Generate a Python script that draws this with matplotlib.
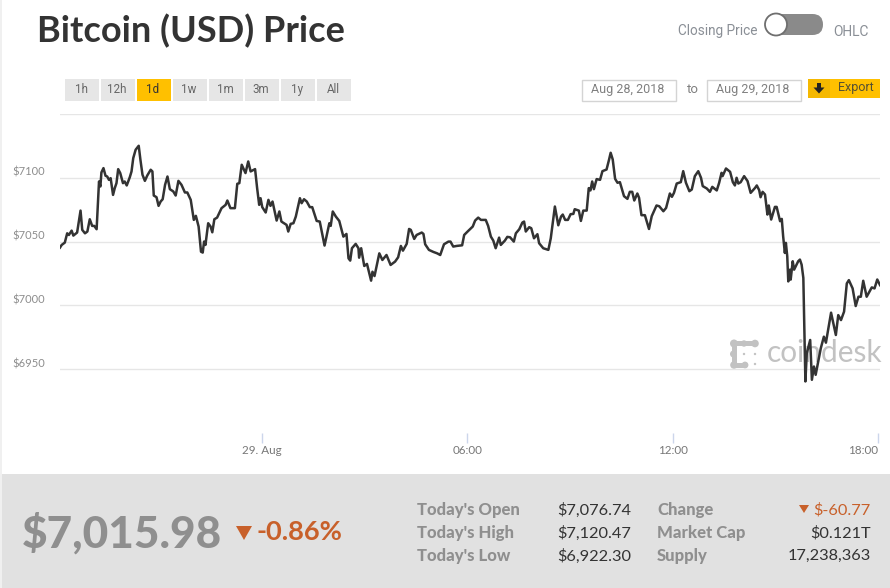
import matplotlib
matplotlib.use("Agg")
import matplotlib.pyplot as plt
from matplotlib.patches import Rectangle, FancyBboxPatch, Circle, Polygon

# hours relative to 29 Aug 00:00
hours = [
    -5.90, -5.85, -5.76, -5.69, -5.64, -5.56, -5.51, -5.40, -5.30, -5.25, -5.17, -5.10, -5.03, -4.96, -4.90, -4.83,
    -4.76, -4.72, -4.69, -4.63, -4.57, -4.52, -4.47, -4.42, -4.35, -4.30, -4.25, -4.20, -4.14, -4.06, -4.01, -3.95,
    -3.86, -3.81, -3.76, -3.69, -3.60, -3.55, -3.49, -3.42, -3.35, -3.25, -3.20, -3.16, -3.08, -3.02, -2.96, -2.90,
    -2.83, -2.76, -2.69, -2.59, -2.52, -2.44, -2.35, -2.25, -2.18, -2.08, -1.99, -1.93, -1.85, -1.78, -1.73, -1.69,
    -1.65, -1.57, -1.50, -1.45, -1.39, -1.31, -1.18, -1.06, -1.01, -0.92, -0.79, -0.72, -0.66, -0.59, -0.48, -0.40,
    -0.33, -0.20, -0.14, -0.08, -0.04, 0.01, 0.11, 0.19, 0.25, 0.31, 0.43, 0.51, 0.57, 0.72, 0.77, 0.84, 0.92, 0.99,
    1.11, 1.16, 1.23, 1.31, 1.40, 1.47, 1.60, 1.69, 1.77, 1.83, 1.91, 1.97, 2.01, 2.07, 2.16, 2.26, 2.38, 2.47, 2.53,
    2.58, 2.63, 2.74, 2.82, 2.84, 2.90, 2.99, 3.07, 3.19, 3.23, 3.29, 3.43, 3.52, 3.64, 3.76, 3.89, 3.98, 4.06, 4.12,
    4.23, 4.30, 4.35, 4.45, 4.52, 4.67, 4.72, 4.77, 4.88, 5.01, 5.12, 5.21, 5.32, 5.45, 5.51, 5.59, 5.69, 5.85, 5.91,
    6.01, 6.16, 6.23, 6.32, 6.40, 6.54, 6.61, 6.69, 6.76, 6.83, 6.93, 6.98, 7.10, 7.17, 7.25, 7.36, 7.42, 7.52, 7.61,
    7.66, 7.71, 7.81, 7.87, 7.95, 8.05, 8.10, 8.22, 8.37, 8.44, 8.56, 8.66, 8.74, 8.79, 8.86, 8.94, 9.02, 9.10, 9.14,
    9.26, 9.32, 9.39, 9.49, 9.55, 9.60, 9.65, 9.70, 9.78, 9.88, 9.95, 10.07, 10.14, 10.19, 10.25, 10.32, 10.39, 10.46,
    10.58, 10.68, 10.75, 10.82, 10.88, 10.97, 11.02, 11.09, 11.19, 11.31, 11.39, 11.53, 11.61, 11.73, 11.81, 11.92,
    11.98, 12.04, 12.12, 12.24, 12.31, 12.39, 12.49, 12.56, 12.65, 12.75, 12.83, 12.88, 13.00, 13.09, 13.16, 13.29,
    13.36, 13.43, 13.46, 13.56, 13.68, 13.76, 13.82, 13.87, 13.92, 13.99, 14.09, 14.19, 14.28, 14.41, 14.46, 14.53,
    14.57, 14.63, 14.70, 14.77, 14.81, 14.88, 14.99, 15.04, 15.14, 15.19, 15.23, 15.28, 15.31, 15.35, 15.38, 15.43,
    15.45, 15.51, 15.55, 15.67, 15.72, 15.77, 15.82, 15.88, 15.92, 16.02, 16.07, 16.13, 16.18, 16.33, 16.42, 16.48,
    16.63, 16.77, 16.84, 16.92, 17.01, 17.09, 17.15, 17.26, 17.35, 17.43, 17.50, 17.57, 17.67, 17.82, 17.90, 17.98,
    18.06,
]
prices = [
    7045.3, 7047.4, 7049.2, 7056.5, 7055.2, 7058.6, 7054.7, 7057.1, 7074.3, 7059.2, 7056.5, 7057.9, 7067.5, 7062.3,
    7062.3, 7059.7, 7097.1, 7093.2, 7104.2, 7107.6, 7101.6, 7101.0, 7098.4, 7099.7, 7086.6, 7091.9, 7095.8, 7106.8,
    7103.7, 7095.8, 7097.1, 7094.0, 7100.5, 7105.0, 7115.4, 7122.0, 7125.1, 7114.1, 7102.4, 7097.6, 7101.8, 7106.3,
    7105.0, 7086.1, 7084.8, 7078.0, 7081.4, 7083.2, 7094.5, 7101.0, 7091.1, 7089.3, 7086.1, 7097.6, 7094.5, 7088.5,
    7088.5, 7082.7, 7067.0, 7070.2, 7061.8, 7042.1, 7041.4, 7050.0, 7047.4, 7064.4, 7061.8, 7057.3, 7067.5, 7068.8,
    7076.2, 7078.8, 7082.2, 7076.2, 7076.2, 7095.3, 7095.8, 7110.2, 7103.7, 7112.8, 7105.0, 7106.8, 7091.9, 7078.8,
    7084.0, 7077.0, 7072.8, 7082.7, 7078.0, 7081.4, 7066.5, 7073.6, 7065.7, 7063.1, 7057.9, 7063.9, 7064.4, 7069.6,
    7084.0, 7080.1, 7083.2, 7081.4, 7077.0, 7077.0, 7066.2, 7065.7, 7055.2, 7046.9, 7057.1, 7064.4, 7062.3, 7073.6,
    7069.6, 7066.2, 7053.9, 7056.0, 7036.9, 7035.1, 7044.8, 7048.2, 7044.8, 7037.4, 7044.8, 7030.9, 7032.5, 7019.4,
    7026.4, 7023.0, 7040.8, 7035.6, 7039.5, 7031.7, 7034.3, 7037.7, 7046.6, 7042.9, 7048.2, 7059.9, 7059.2, 7052.1,
    7055.2, 7057.1, 7056.0, 7047.9, 7043.5, 7041.9, 7040.8, 7039.5, 7047.9, 7050.0, 7050.0, 7046.1, 7046.6, 7047.1,
    7055.2, 7057.9, 7061.8, 7066.5, 7068.8, 7067.0, 7067.0, 7062.3, 7053.9, 7050.8, 7044.8, 7053.1, 7047.4, 7050.8,
    7053.7, 7053.4, 7050.0, 7056.5, 7059.7, 7064.9, 7065.7, 7057.9, 7061.3, 7060.5, 7052.6, 7055.8, 7048.7, 7044.8,
    7043.5, 7052.6, 7077.5, 7062.8, 7069.6, 7071.2, 7067.0, 7067.0, 7071.5, 7071.7, 7075.4, 7074.3, 7066.2, 7074.3,
    7074.3, 7091.9, 7090.1, 7097.1, 7091.1, 7099.0, 7098.4, 7105.2, 7106.5, 7113.9, 7119.6, 7114.4, 7099.2, 7096.1,
    7096.6, 7085.6, 7083.5, 7089.0, 7089.0, 7082.2, 7087.7, 7084.3, 7070.7, 7070.7, 7059.9, 7069.9, 7078.3, 7077.7,
    7073.8, 7076.4, 7087.7, 7085.1, 7088.2, 7095.5, 7096.6, 7105.2, 7096.1, 7089.5, 7090.8, 7101.3, 7105.2, 7100.0,
    7093.5, 7091.6, 7089.0, 7092.9, 7090.1, 7096.1, 7103.9, 7101.3, 7107.3, 7104.7, 7096.6, 7094.0, 7100.0, 7095.5,
    7096.6, 7101.3, 7097.4, 7088.2, 7092.1, 7094.0, 7090.3, 7084.8, 7089.0, 7086.9, 7071.2, 7078.3, 7067.3, 7077.2,
    7077.2, 7066.0, 7067.8, 7054.2, 7041.1, 7049.0, 7038.5, 7018.8, 7028.0, 7020.2, 7034.6, 7028.0, 7034.6, 7035.9,
    7031.9, 7021.5, 6940.4, 6962.5, 6972.9, 6941.7, 6952.1, 6945.6, 6966.4, 6975.5, 6970.8, 6994.3, 6976.8, 6992.4,
    6988.5, 6995.1, 7017.2, 7019.8, 7013.3, 6999.5, 7006.8, 7006.8, 7019.3, 7006.8, 7014.1, 7013.3, 7020.3, 7015.9,
]

y_ticks = [6950, 7000, 7050, 7100, 7150]
y_labels = ["$6950", "$7000", "$7050", "$7100", ""]
x_ticks = [0, 6, 12, 18]
x_labels = ["29. Aug", "06:00", "12:00", "18:00"]
ranges = ["1h", "12h", "1d", "1w", "1m", "3m", "1y", "All"]
stats_left = [("Today's Open", "$7,076.74"), ("Today's High", "$7,120.47"), ("Today's Low", "$6,922.30")]
stats_right = [("Change", "$-60.77"), ("Market Cap", "$0.121T"), ("Supply", "17,238,363")]

W, H = 890, 588
fig = plt.figure(figsize=(W / 100, H / 100), dpi=100, facecolor="white")

# page furniture is placed in pixels on a full-figure axes
bg = fig.add_axes([0, 0, 1, 1], zorder=0)
bg.set_xlim(0, W)
bg.set_ylim(H, 0)
bg.axis("off")

FONT = "Lato"
GREY = "#8f8f8f"
ORANGE = "#c8602a"

bg.add_patch(Rectangle((0, 0), 2, H, color="#f0f0f0", lw=0))
bg.text(37, 31, "Bitcoin (USD) Price", family=FONT, weight="bold", fontsize=26, color="#333333", va="center")

# toggle
bg.text(757, 31.5, "Closing Price", family="Roboto", fontsize=9.8, color="#8a8f96", ha="right", va="center")
bg.text(833, 31.5, "OHLC", family="Roboto", fontsize=10, color="#8a8f96", va="center")
bg.add_patch(FancyBboxPatch((765, 14), 58, 21, boxstyle="round,pad=0,rounding_size=10.5",
                            fc="#8a8a8a", ec="none", lw=0))
bg.add_patch(Circle((776, 24.5), 11, fc="white", ec="#6f6f6f", lw=1.3))

# range buttons
for i, label in enumerate(ranges):
    x0 = 65 + i * 36
    selected = label == "1d"
    bg.add_patch(Rectangle((x0, 79), 34, 22, fc="#ffc000" if selected else "#e6e6e6", ec="none"))
    bg.text(x0 + 16, 89.5, label, family="Roboto", fontsize=8.4, color="#333333" if selected else "#666666",
            ha="center", va="center")

# date range and export
for x0, label in [(581, "Aug 28, 2018"), (706, "Aug 29, 2018")]:
    bg.add_patch(Rectangle((x0 + 0.5, 79.5), 94, 21, fc="white", ec="#d4d4d4", lw=1))
    bg.text(x0 + 47, 89, label, family="Roboto", fontsize=9, color="#808080", ha="center", va="center")
bg.text(692.5, 89.5, "to", family="Roboto", fontsize=9.5, color="#808080", ha="center", va="center")
bg.add_patch(Rectangle((808, 79), 72, 19, fc="#ffc000", ec="none"))
bg.add_patch(Rectangle((808, 79), 22, 19, fc="#f5b800", ec="none"))
bg.add_patch(Polygon([(817, 83), (821, 83), (821, 87.5), (824.5, 87.5), (819, 93.5), (813.5, 87.5), (817, 87.5)],
                     fc="#222222", ec="none"))
bg.text(855.5, 88, "Export", family="Roboto", fontsize=9, color="#555033", ha="center", va="center")

# coindesk watermark, sits under the line
logo = "#c2c2c2"
bg.add_patch(Rectangle((733, 341), 22, 5, fc=logo, ec="none"))
bg.add_patch(Rectangle((732, 343), 5, 22, fc=logo, ec="none"))
bg.add_patch(Rectangle((733, 363), 12, 4.5, fc=logo, ec="none"))
for cx, cy, r in [(734, 343.5, 4), (744, 343.5, 3.2), (755, 343.5, 3.8), (733.5, 354, 3.5), (734, 365, 3.8),
                  (745, 365, 3.4)]:
    bg.add_patch(Circle((cx, cy), r, fc=logo, ec="none"))
for cx, cy in [(744, 354), (755, 354), (755, 364)]:
    bg.add_patch(Circle((cx, cy), 1.2, fc=logo, ec="none"))
bg.text(766.5, 353, "coindesk", family="Lato", fontsize=21.5, color=logo, va="center")

# bottom panel
bg.add_patch(Rectangle((2, 474), W - 2, H - 474, fc="#e1e1e1", ec="none"))
bg.text(22, 533, "$7,015.98", family=FONT, weight="black", fontsize=31.8, color=GREY, va="center")
bg.add_patch(Polygon([(236, 526), (252, 526), (244, 540)], fc=ORANGE, ec="none"))
bg.text(257, 532.5, "-0.86%", family=FONT, weight="bold", fontsize=19.6, color=ORANGE, va="center")

row_y = [510, 533, 556]
for y, (name, val) in zip(row_y, stats_left):
    bg.text(417, y, name, family=FONT, weight="black", fontsize=12, color=GREY, va="center")
    bg.text(631, y, val, family=FONT, fontsize=11.8, color="#333333", ha="right", va="center")
for y, (name, val) in zip(row_y, stats_right):
    bg.text(657, y, name, family=FONT, weight="black", fontsize=12, color=GREY, va="center")
    bg.text(871, y, val, family=FONT, fontsize=11.8, color=ORANGE if name == "Change" else "#333333",
            ha="right", va="center")
bg.add_patch(Polygon([(799, 505), (809, 505), (804, 513)], fc=ORANGE, ec="none"))

# chart: x 60..880 px, y 114..433 px
ax = fig.add_axes([60 / W, 1 - 433 / H, 820 / W, 319 / H], zorder=1)
ax.patch.set_alpha(0)
ax.plot(hours, prices, color="#333333", lw=1.8, solid_joinstyle="round")
ax.set_xlim(-5.90, 18.06)
ax.set_ylim(6900, 7150)
for s in ax.spines.values():
    s.set_visible(False)
ax.set_yticks(y_ticks)
ax.set_yticklabels(y_labels, family=FONT, fontsize=8, color="#8d8d8d")
ax.set_xticks(x_ticks)
ax.set_xticklabels(x_labels, family=FONT, fontsize=8.4, color="#777777")
ax.tick_params(axis="y", length=0, pad=10.5)
ax.tick_params(axis="x", length=7, width=1, color="#ccd6eb", direction="out", pad=1.5)
for t in ax.get_yticklabels():
    t.set_va("bottom")
ax.get_xticklabels()[-1].set_ha("right")
ax.grid(axis="y", color="#e6e6e6", lw=1)
ax.set_axisbelow(True)

fig.savefig("out.png", dpi=100)
